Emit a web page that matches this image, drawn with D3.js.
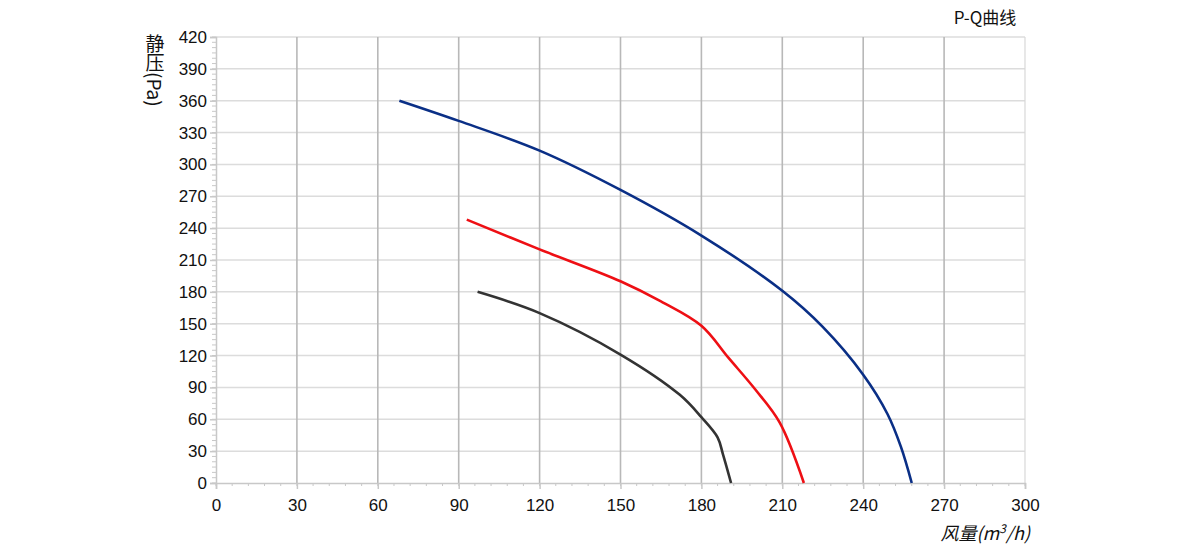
<!DOCTYPE html>
<html>
<head>
<meta charset="utf-8">
<script src="https://cdn.jsdelivr.net/npm/d3@7"></script>
<style>
  body { margin: 0; background: #fff; }
  svg { display: block; font-family: "Liberation Sans", Arial, sans-serif; }
</style>
</head>
<body>
<svg id="chart" width="1200" height="549"></svg>
<script>
// P-Q curves: air flow (m3/h) vs static pressure (Pa)
const blueQ = [68, 90, 120, 150, 180, 210, 225, 240, 249, 254, 258];
const blueP = [360, 341, 313, 276, 233, 181, 147, 102, 65, 34, 0];
const redQ = [93, 120, 150, 165, 180, 190, 200, 209, 218];
const redP = [248, 220, 190, 171, 148, 118, 88, 57, 0];
const blackQ = [97, 120, 150, 172, 180, 186, 188, 191];
const blackP = [180, 160, 121, 83, 62, 43, 27, 0];

const xTicks = [0, 30, 60, 90, 120, 150, 180, 210, 240, 270, 300];
const yTicks = [0, 30, 60, 90, 120, 150, 180, 210, 240, 270, 300, 330, 360, 390, 420];

const series = [
  { q: blueQ, p: blueP, color: '#0a2f86' },
  { q: redQ, p: redP, color: '#ee0f14' },
  { q: blackQ, p: blackP, color: '#333333' },
];

const padL = 216, padR = 1025, padT = 37, padB = 483;

const svg = d3.select('#chart');

const x = d3.scaleLinear().domain([0, 300]).range([padL, padR]);
const y = d3.scaleLinear().domain([0, 420]).range([padB, padT]);

// horizontal grid
svg.append('g')
  .selectAll('line')
  .data(yTicks.filter(d => d > 0))
  .enter()
  .append('line')
  .attr('x1', padL).attr('x2', padR)
  .attr('y1', d => y(d)).attr('y2', d => y(d))
  .attr('stroke', '#dcdcdc')
  .attr('stroke-width', 1.5);

// vertical grid
svg.append('g')
  .selectAll('line')
  .data(xTicks.filter(d => d > 0))
  .enter()
  .append('line')
  .attr('x1', d => x(d)).attr('x2', d => x(d))
  .attr('y1', padT).attr('y2', padB)
  .attr('stroke', d => d === 300 ? '#d8d8d8' : '#b8b8b8')
  .attr('stroke-width', d => d === 300 ? 1.2 : 1.6);

// minor ticks
svg.append('g')
  .selectAll('line')
  .data(d3.range(0, 421, 5))
  .enter()
  .append('line')
  .attr('x1', padL - 4).attr('x2', padL)
  .attr('y1', d => y(d)).attr('y2', d => y(d))
  .attr('stroke', '#c8c8c8');
svg.append('g')
  .selectAll('line')
  .data(d3.range(0, 301, 6))
  .enter()
  .append('line')
  .attr('x1', d => x(d)).attr('x2', d => x(d))
  .attr('y1', padB).attr('y2', padB + 3)
  .attr('stroke', '#c8c8c8');

// axes
const xAxis = d3.axisBottom(x).tickValues(xTicks).tickSize(6).tickPadding(10);
const yAxis = d3.axisLeft(y).tickValues(yTicks).tickSize(6).tickPadding(3);

const gx = svg.append('g')
  .attr('transform', `translate(0, ${padB})`)
  .call(xAxis);
const gy = svg.append('g')
  .attr('transform', `translate(${padL}, 0)`)
  .call(yAxis);

[gx, gy].forEach(g => {
  g.select('.domain').attr('stroke', '#c8c8c8').attr('stroke-width', 1.5);
  g.selectAll('.tick line').attr('stroke', '#c8c8c8').attr('stroke-width', 1.5);
  g.selectAll('.tick text')
    .attr('fill', '#111')
    .style('font-size', '17px')
    .style('font-family', '"Liberation Sans", Arial, sans-serif');
});

// curves
const line = d3.line()
  .x(d => x(d[0]))
  .y(d => y(d[1]))
  .curve(d3.curveCatmullRom.alpha(0.5));

series.forEach(s => {
  svg.append('path')
    .datum(s.q.map((q, i) => [q, s.p[i]]))
    .attr('d', line)
    .attr('fill', 'none')
    .attr('stroke', s.color)
    .attr('stroke-width', 2.6)
    .attr('stroke-linejoin', 'round');
});

// title
svg.append('text')
  .attr('x', 985)
  .attr('y', 24)
  .attr('text-anchor', 'middle')
  .style('font-family', '"Noto Sans CJK SC", "Noto Sans", sans-serif')
  .style('font-size', '17px')
  .attr('fill', '#111')
  .text('P-Q曲线');

// y label (vertical)
svg.append('text')
  .attr('x', 155)
  .attr('y', 34)
  .style('writing-mode', 'vertical-rl')
  .style('font-family', '"Noto Sans CJK SC", "Liberation Sans", sans-serif')
  .style('font-size', '19px')
  .attr('fill', '#111')
  .text('静压(Pa)');

// x label
const xl = svg.append('text')
  .attr('x', 1030)
  .attr('y', 540)
  .attr('text-anchor', 'end')
  .style('font-family', '"Noto Sans CJK SC", "Liberation Sans", sans-serif')
  .style('font-size', '18px')
  .style('font-style', 'italic')
  .attr('fill', '#111');
xl.append('tspan').text('风量(m');
xl.append('tspan').attr('dy', -7).style('font-size', '12px').text('3');
xl.append('tspan').attr('dy', 7).text('/h)');
</script>
</body>
</html>
